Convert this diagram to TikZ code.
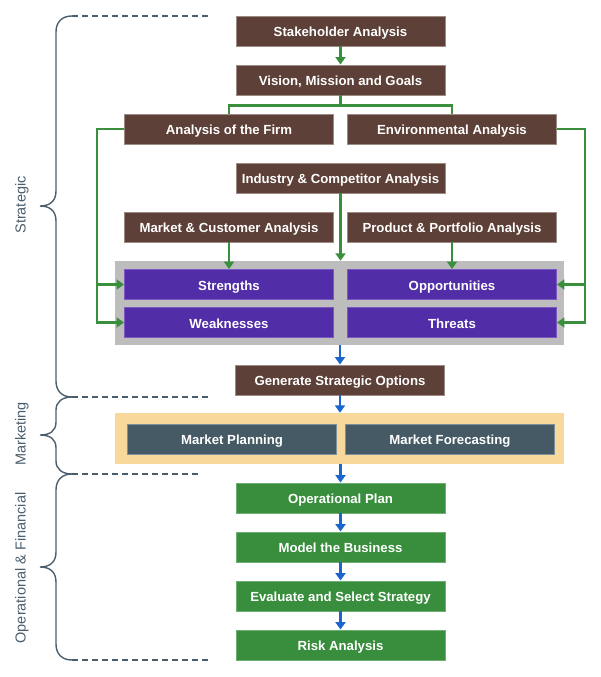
\documentclass[tikz,border=0pt]{standalone}
\usepackage{fontspec}
\setmainfont{Liberation Sans}
\usetikzlibrary{arrows.meta}
\definecolor{brn}{HTML}{5D4037}
\definecolor{brnb}{HTML}{9E8A84}
\definecolor{prp}{HTML}{512DA8}
\definecolor{prpb}{HTML}{7E57C2}
\definecolor{slt}{HTML}{455A64}
\definecolor{sltb}{HTML}{7D909A}
\definecolor{grn}{HTML}{388E3C}
\definecolor{grnb}{HTML}{6DAF70}
\definecolor{gline}{HTML}{3A8F3D}
\definecolor{bline}{HTML}{1A66CC}
\definecolor{gbox}{HTML}{BDBDBD}
\definecolor{tbox}{HTML}{F9D89B}
\definecolor{brace}{HTML}{4B5E6E}
\tikzset{
  base/.style={minimum width=209pt, minimum height=30pt, inner sep=0pt, line width=0.9pt,
    text height=11.5pt, text depth=0pt,
    text=white, font=\fontsize{13.2}{15}\selectfont\bfseries},
  bbox/.style={base, fill=brn, draw=brnb},
  pbox/.style={base, fill=prp, draw=prpb},
  sbox/.style={base, fill=slt, draw=sltb},
  gbx/.style={base, fill=grn, draw=grnb},
  garr/.style={draw=gline, line width=2.4pt, -{Triangle[width=10pt,length=7.5pt]}},
  gline/.style={draw=gline, line width=2.4pt},
  barr/.style={draw=bline, line width=2.4pt, -{Triangle[width=10pt,length=7.5pt]}},
  brc/.style={draw=brace, line width=1.4pt},
  dsh/.style={draw=brace, line width=1.4pt, dash pattern=on 6pt off 4pt},
  lbl/.style={rotate=90, text=brace, font=\fontsize{14.5}{16}\selectfont}
}
\begin{document}
\begin{tikzpicture}[x=1pt,y=-1pt]
\useasboundingbox (0,0) rectangle (600,677);
% containers
\node[fill=gbox, minimum width=449pt, minimum height=84pt, inner sep=0pt] (swot) at (339.5,303) {};
\node[fill=tbox, minimum width=449pt, minimum height=51pt, inner sep=0pt] (mkt) at (339.5,438.5) {};
% boxes
\node[bbox] (stk) at (340.5,31) {Stakeholder Analysis};
\node[bbox] (vis) at (340.5,80) {Vision, Mission and Goals};
\node[bbox] (firm) at (229,129) {Analysis of the Firm};
\node[bbox] (env) at (452,129) {Environmental Analysis};
\node[bbox] (ind) at (340.5,178) {Industry \& Competitor Analysis};
\node[bbox] (mc) at (229,227) {Market \& Customer Analysis};
\node[bbox] (pp) at (452,227) {Product \& Portfolio Analysis};
\node[pbox] (str) at (229,284.5) {Strengths};
\node[pbox] (weak) at (229,322.5) {Weaknesses};
\node[pbox] (opp) at (452,284.5) {Opportunities};
\node[pbox] (thr) at (452,322.5) {Threats};
\node[bbox] (gen) at (340,380) {Generate Strategic Options};
\node[sbox] (mp) at (232,439) {Market Planning};
\node[sbox] (mf) at (450,439) {Market Forecasting};
\node[gbx] (op) at (340.5,498) {Operational Plan};
\node[gbx] (mb) at (340.5,547) {Model the Business};
\node[gbx] (ev) at (340.5,596) {Evaluate and Select Strategy};
\node[gbx] (ra) at (340.5,645) {Risk Analysis};
% green connectors
\draw[garr] (stk.south) -- (vis.north);
\draw[gline] (vis.south) -- ++(0,10) -| (firm.north);
\draw[gline] (vis.south) -- ++(0,10) -| (env.north);
\draw[garr] (firm.west) -- ++(-27,0) |- (str.west);
\draw[garr] (firm.west) -- ++(-27,0) |- (weak.west);
\draw[garr] (env.east) -- ++(28,0) |- (opp.east);
\draw[garr] (env.east) -- ++(28,0) |- (thr.east);
\draw[garr] (ind.south) -- (ind.south |- swot.north);
\draw[garr] (mc.south) -- (str.north);
\draw[garr] (pp.south) -- (opp.north);
% blue connectors
\draw[barr] (gen.north |- swot.south) -- (gen.north);
\draw[barr] (gen.south) -- (gen.south |- mkt.north);
\draw[barr] (op.north |- mkt.south) -- (op.north);
\draw[barr] (op.south) -- (mb.north);
\draw[barr] (mb.south) -- (ev.north);
\draw[barr] (ev.south) -- (ra.north);
% braces
\draw[brc] (72,16) .. controls (62,16) and (56,22) .. (56,32) -- (56,191)
  .. controls (56,201) and (50,206) .. (40,206) .. controls (50,206) and (56,211) .. (56,221)
  -- (56,381) .. controls (56,391) and (62,397) .. (72,397);
\draw[brc] (72,397) .. controls (62,397) and (56,402) .. (56,410) -- (56,422)
  .. controls (56,431) and (50,435) .. (40,435) .. controls (50,435) and (56,439) .. (56,448)
  -- (56,461) .. controls (56,469) and (62,474) .. (72,474);
\draw[brc] (72,474) .. controls (62,474) and (56,480) .. (56,490) -- (56,552)
  .. controls (56,562) and (50,567) .. (40,567) .. controls (50,567) and (56,572) .. (56,582)
  -- (56,644) .. controls (56,654) and (62,660) .. (72,660);
\draw[dsh] (72,16) -- (209,16);
\draw[dsh] (72,397) -- (209,397);
\draw[dsh] (72,474) -- (201,474);
\draw[dsh] (72,660) -- (209,660);
\node[lbl] (l1) at (22,205) {Strategic};
\node[lbl] (l2) at (22,434) {Marketing};
\node[lbl] (l3) at (22,568) {Operational \& Financial};
\end{tikzpicture}
\end{document}
